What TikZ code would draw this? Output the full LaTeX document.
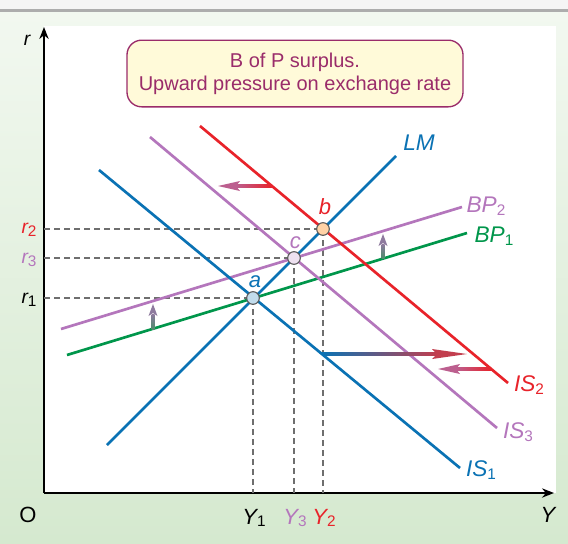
\documentclass[tikz,border=0pt]{standalone}
\usepackage{fontspec}
\setmainfont{Liberation Sans}
\usetikzlibrary{arrows.meta, positioning, calc}

\definecolor{lmblue}{HTML}{0A72B4}
\definecolor{isred}{HTML}{E8232A}
\definecolor{bppurple}{HTML}{B476BC}
\definecolor{bpgreen}{HTML}{00964B}
\definecolor{shiftmauve}{HTML}{BC5F8F}
\definecolor{shiftred}{HTML}{C23E4E}
\definecolor{risegreen}{HTML}{4E8C6C}
\definecolor{risepurple}{HTML}{8E7A9E}
\definecolor{boxyellow}{HTML}{FFFAD9}
\definecolor{boxmaroon}{HTML}{9A2C6A}
\definecolor{paneltop}{HTML}{F2F8F0}
\definecolor{panelgreen}{HTML}{D5E9CF}
\definecolor{dashgray}{HTML}{6E6E6E}

\newcommand{\lsub}[1]{\raisebox{-2pt}{\fontsize{11.5}{11.5}\selectfont\upshape #1}}

\begin{document}
\begin{tikzpicture}[x=0.75pt, y=-0.75pt, >=Stealth,
    curve/.style={line width=2pt},
    guide/.style={dashgray, line width=0.9pt, dash pattern=on 4.5pt off 3pt},
    axis/.style={line width=1.1pt, -{Stealth[length=9pt, width=7pt]}},
    lab/.style={font=\fontsize{16.5}{16.5}\selectfont\itshape, inner sep=0pt},
    curvelab/.style={lab, font=\fontsize{17}{17}\selectfont\itshape},
    ratelab/.style={lab, font=\fontsize{14.5}{14.5}\selectfont\itshape},
    dot/.style={circle, draw=black!65, line width=0.8pt, minimum size=9.5pt, inner sep=0pt},
    note/.style={draw=boxmaroon, line width=1pt, fill=boxyellow, rounded corners=11pt,
      text=boxmaroon, align=center, minimum width=252pt, minimum height=50pt,
      font=\fontsize{15}{17}\selectfont}]
    \useasboundingbox (0,0) rectangle (568,543);

    % Panel
    \fill[top color=paneltop, bottom color=panelgreen] (0,12) rectangle (568,543);
    \fill[black!4] (0,0) rectangle (568,9);
    \fill[black!32] (0,9) rectangle (568,12);
    \fill[white] (44,26) rectangle (556,493);

    % Axes
    \coordinate (orig) at (44,493);
    \coordinate (rtop) at (44,27);
    \coordinate (yend) at (554,493);
    \draw[axis] (orig) -- (rtop);
    \draw[axis] (orig) -- (yend);
    \node[ratelab] (rlab) at (27,40) {r};
    \node[font=\fontsize{16.5}{16.5}\selectfont, inner sep=0pt] (olab) at (28,515) {O};
    \node[lab] (ylab) at (548,515) {Y};

    % Curves
    \coordinate (LMlo) at (107,445);  \coordinate (LMhi) at (396,156);
    \coordinate (IS1a) at (99,170);   \coordinate (IS1b) at (460,468);
    \coordinate (IS2a) at (200,126);  \coordinate (IS2b) at (508,383);
    \coordinate (IS3a) at (150,137);  \coordinate (IS3b) at (497,428);
    \coordinate (BP1a) at (67,355);   \coordinate (BP1b) at (467,233);
    \coordinate (BP2a) at (61,329);   \coordinate (BP2b) at (462,207);

    % Equilibrium points
    \coordinate (a) at (253,298);
    \coordinate (c) at (294,258);
    \coordinate (b) at (323,229);

    % Guides
    \draw[guide] (orig |- a) -- (a) -- (a |- orig);
    \draw[guide] (orig |- c) -- (c) -- (c |- orig);
    \draw[guide] (orig |- b) -- (b) -- (b |- orig);

    \draw[curve, bpgreen]  (BP1a) -- (BP1b);
    \draw[curve, bppurple] (BP2a) -- (BP2b);
    \draw[curve, bppurple] (IS3a) -- (IS3b);
    \draw[curve, lmblue]   (IS1a) -- (IS1b);
    \draw[curve, isred]    (IS2a) -- (IS2b);
    \draw[curve, lmblue]   (LMlo) -- (LMhi);

    % Shift arrows
    \coordinate (s1) at (272,186);  \coordinate (t1) at (218,186);
    \coordinate (s2) at (322,354);  \coordinate (t2) at (467,354);
    \coordinate (s3) at (491,369);  \coordinate (t3) at (438,369);
    \coordinate (s4) at (153,329);  \coordinate (t4) at (153,304);
    \coordinate (s5) at (383,258);  \coordinate (t5) at (383,234);

    \shade[left color=shiftmauve, right color=isred] ($(t1)+(18,-1.5)$) rectangle ($(s1)+(0,1.5)$);
    \fill[shiftmauve] (t1) -- ++(22,-5) -- ++(-4,5) -- ++(4,5) -- cycle;
    \shade[left color=lmblue, right color=shiftred] ($(s2)+(0,-1.5)$) rectangle ($(t2)+(-30,1.5)$);
    \fill[shiftred] (t2) -- ++(-35,-5) -- ++(5,5) -- ++(-5,5) -- cycle;
    \shade[left color=shiftmauve, right color=isred] ($(t3)+(18,-1.5)$) rectangle ($(s3)+(0,1.5)$);
    \fill[shiftmauve] (t3) -- ++(22,-5) -- ++(-4,5) -- ++(4,5) -- cycle;
    \shade[top color=risepurple, bottom color=risegreen] ($(t4)+(-1.5,10)$) rectangle ($(s4)+(1.5,0)$);
    \fill[risepurple] (t4) -- ++(-4.5,12) -- ++(4.5,-3) -- ++(4.5,3) -- cycle;
    \shade[top color=risepurple, bottom color=risegreen] ($(t5)+(-1.5,10)$) rectangle ($(s5)+(1.5,0)$);
    \fill[risepurple] (t5) -- ++(-4.5,12) -- ++(4.5,-3) -- ++(4.5,3) -- cycle;

    % Points
    \node[dot, fill=lmblue!25]   (pa) at (a) {};
    \node[dot, fill=bppurple!22] (pc) at (c) {};
    \node[dot, fill=orange!35]   (pb) at (b) {};
    \node[lab, lmblue,   above=2pt of pa, xshift=1.5pt] (alab) {a};
    \node[lab, bppurple, above=1.5pt of pc, xshift=1pt] (clab) {c};
    \node[lab, isred,    above=5pt of pb, xshift=1.5pt] (blab) {b};

    % Labels
    \node[curvelab, lmblue]   (lmlab)  at (419,143) {LM};
    \node[curvelab, bppurple] (bp2lab) at (486,206) {BP\lsub{2}};
    \node[curvelab, bpgreen]  (bp1lab) at (494,236) {BP\lsub{1}};
    \node[curvelab, isred]    (is2lab) at (529,385) {IS\lsub{2}};
    \node[curvelab, bppurple] (is3lab) at (518,432) {IS\lsub{3}};
    \node[curvelab, lmblue]   (is1lab) at (481,470) {IS\lsub{1}};

    \node[ratelab, isred]    (r2lab) at (29,230) {r\lsub{2}};
    \node[ratelab, bppurple] (r3lab) at (29,260) {r\lsub{3}};
    \node[ratelab]           (r1lab) at (29,300) {r\lsub{1}};
    \node[lab]           (y1lab) at (254,518) {Y\lsub{1}};
    \node[lab, bppurple] (y3lab) at (295,518) {Y\lsub{3}};
    \node[lab, isred]    (y2lab) at (324,518) {Y\lsub{2}};

    % Note
    \node[note] (surplus) at (295,73.5) {B of P surplus.\\Upward pressure on exchange rate};
\end{tikzpicture}
\end{document}
